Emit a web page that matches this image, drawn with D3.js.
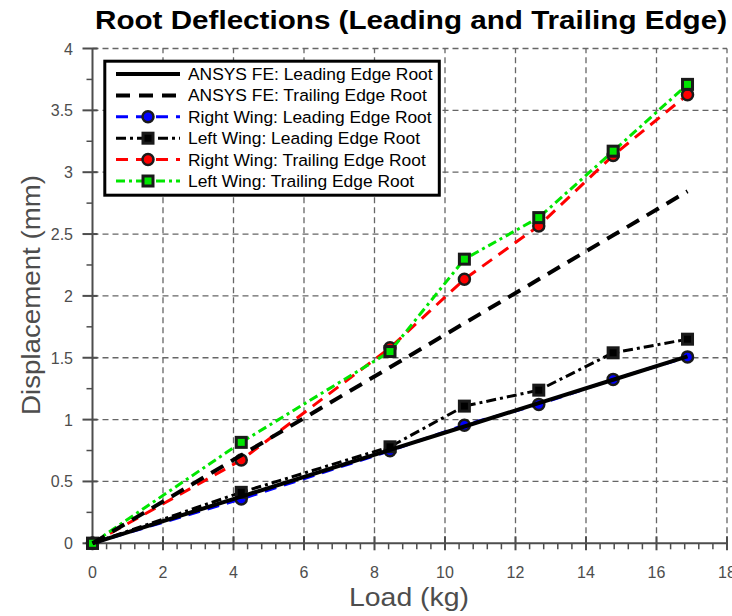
<!DOCTYPE html>
<html>
<head>
<meta charset="utf-8">
<script src="https://cdn.jsdelivr.net/npm/d3@7"></script>
<style>
  html, body { margin: 0; padding: 0; background: #fff; }
  svg { display: block; font-family: "Liberation Sans", Arial, Helvetica, sans-serif; }
</style>
</head>
<body>
<svg id="chart" width="732" height="616"></svg>
<script>
// Load cases (kg) and measured / simulated root displacements (mm)
const loads = [0, 4.22, 8.44, 10.55, 12.66, 14.77, 16.88];
const ansysLeading = [0, 0.378, 0.755, 0.944, 1.133, 1.322, 1.511];
const ansysTrailing = [0, 0.712, 1.423, 1.779, 2.134, 2.490, 2.846];
const rightLeading = [0, 0.358, 0.748, 0.955, 1.123, 1.325, 1.507];
const leftLeading = [0, 0.412, 0.780, 1.109, 1.238, 1.540, 1.650];
const rightTrailing = [0, 0.673, 1.580, 2.135, 2.566, 3.136, 3.627];
const leftTrailing = [0, 0.816, 1.550, 2.297, 2.633, 3.170, 3.710];

const xTicks = [0, 2, 4, 6, 8, 10, 12, 14, 16, 18];
const yTicks = [0, 0.5, 1, 1.5, 2, 2.5, 3, 3.5, 4];
const seriesNames = [
  "ANSYS FE: Leading Edge Root",
  "ANSYS FE: Trailing Edge Root",
  "Right Wing: Leading Edge Root",
  "Left Wing: Leading Edge Root",
  "Right Wing: Trailing Edge Root",
  "Left Wing: Trailing Edge Root"
];

const titleText = "Root Deflections (Leading and Trailing Edge)";
const xLabel = "Load (kg)";
const yLabel = "Displacement (mm)";

// Series styling (legend order)
const styles = [
  { values: ansysLeading,  color: "#000", width: 4,   dash: null,           marker: null },
  { values: ansysTrailing, color: "#000", width: 4,   dash: "14,9",         marker: null },
  { values: rightLeading,  color: "#0000ff", width: 3, dash: "12,8",        marker: "circle" },
  { values: leftLeading,   color: "#000", width: 3,   dash: "10,4,3,4",     marker: "square" },
  { values: rightTrailing, color: "#ff0000", width: 3, dash: "12,8",        marker: "circle" },
  { values: leftTrailing,  color: "#00e600", width: 3, dash: "9,4,3,4",     marker: "square" }
];

const svg = d3.select("#chart");
const margin = { left: 92.5, right: 5, top: 48.5, bottom: 72.7 };
const W = 732, H = 616;
const x = d3.scaleLinear().domain([0, 18]).range([margin.left, W - margin.right]);
const y = d3.scaleLinear().domain([0, 4]).range([H - margin.bottom, margin.top]);

const axisColor = "#4d4d4d";

// Dashed grid
const grid = svg.append("g");
grid.selectAll("line.gx").data(xTicks.filter(d => d > 0)).join("line")
  .attr("x1", d => x(d)).attr("x2", d => x(d))
  .attr("y1", y(0)).attr("y2", y(4))
  .attr("stroke", "#666").attr("stroke-width", 1.3).attr("stroke-dasharray", "6,4");
grid.selectAll("line.gy").data(yTicks.filter(d => d > 0)).join("line")
  .attr("x1", x(0)).attr("x2", x(18))
  .attr("y1", d => y(d)).attr("y2", d => y(d))
  .attr("stroke", "#666").attr("stroke-width", 1.3).attr("stroke-dasharray", "6,4");

// X axis: line, minor ticks outward, major ticks crossing
const xAxis = svg.append("g");
xAxis.append("line").attr("x1", x(0)).attr("x2", x(18)).attr("y1", y(0)).attr("y2", y(0))
  .attr("stroke", axisColor).attr("stroke-width", 2);
const xMinor = d3.range(0, 18.001, 0.4).filter(v => Math.abs(v / 2 - Math.round(v / 2)) > 1e-6);
xAxis.selectAll("line.mx").data(xMinor).join("line")
  .attr("x1", d => x(d)).attr("x2", d => x(d)).attr("y1", y(0)).attr("y2", y(0) + 6)
  .attr("stroke", axisColor).attr("stroke-width", 1.5);
xAxis.selectAll("line.Mx").data(xTicks).join("line")
  .attr("x1", d => x(d)).attr("x2", d => x(d)).attr("y1", y(0) - 7).attr("y2", y(0) + 7)
  .attr("stroke", axisColor).attr("stroke-width", 2);
xAxis.selectAll("text").data(xTicks).join("text")
  .attr("x", d => x(d)).attr("y", y(0) + 35)
  .attr("text-anchor", "middle").attr("font-size", 16).attr("fill", axisColor)
  .text(d => d);

// Y axis
const yAxis = svg.append("g");
yAxis.append("line").attr("x1", x(0)).attr("x2", x(0)).attr("y1", y(0)).attr("y2", y(4))
  .attr("stroke", axisColor).attr("stroke-width", 2);
const yMinor = d3.range(0.25, 4, 0.5);
yAxis.selectAll("line.my").data(yMinor).join("line")
  .attr("x1", x(0) - 6).attr("x2", x(0)).attr("y1", d => y(d)).attr("y2", d => y(d))
  .attr("stroke", axisColor).attr("stroke-width", 1.5);
yAxis.selectAll("line.My").data(yTicks).join("line")
  .attr("x1", x(0) - 10).attr("x2", x(0) + 5).attr("y1", d => y(d)).attr("y2", d => y(d))
  .attr("stroke", axisColor).attr("stroke-width", 2);
yAxis.selectAll("text").data(yTicks).join("text")
  .attr("x", 73).attr("y", d => y(d) + 6)
  .attr("text-anchor", "end").attr("font-size", 16).attr("fill", axisColor)
  .text(d => d);

// Axis titles
svg.append("text").attr("x", 409).attr("y", 606).attr("text-anchor", "middle")
  .attr("font-size", 25).attr("fill", axisColor)
  .attr("textLength", 120).attr("lengthAdjust", "spacingAndGlyphs").text(xLabel);
svg.append("text").attr("transform", "translate(40,295) rotate(-90)")
  .attr("text-anchor", "middle").attr("font-size", 25).attr("fill", axisColor)
  .attr("textLength", 240).attr("lengthAdjust", "spacingAndGlyphs").text(yLabel);

// Title
svg.append("text").attr("x", 411).attr("y", 29).attr("text-anchor", "middle")
  .attr("font-size", 26).attr("font-weight", "bold").attr("fill", "#000")
  .attr("textLength", 632).attr("lengthAdjust", "spacingAndGlyphs").text(titleText);

// Markers
function drawMarker(g, kind, cx, cy, fill) {
  if (kind === "circle") {
    g.append("circle").attr("cx", cx).attr("cy", cy).attr("r", 5.5)
      .attr("fill", fill).attr("stroke", "#1a1a1a").attr("stroke-width", 2.5);
  } else if (kind === "square") {
    g.append("rect").attr("x", cx - 5).attr("y", cy - 5).attr("width", 10).attr("height", 10)
      .attr("fill", fill).attr("stroke", "#1a1a1a").attr("stroke-width", 3);
  }
}

const line = d3.line().x((d, i) => x(loads[i])).y(d => y(d));
const plot = svg.append("g");
// experimental series first, ANSYS curves on top
const drawOrder = [2, 3, 4, 5, 0, 1];
drawOrder.forEach(k => {
  const s = styles[k];
  const g = plot.append("g");
  g.append("path").datum(s.values).attr("d", line)
    .attr("fill", "none").attr("stroke", s.color).attr("stroke-width", s.width)
    .attr("stroke-dasharray", s.dash).attr("stroke-linejoin", "round");
  if (s.marker) {
    s.values.forEach((v, i) => drawMarker(g, s.marker, x(loads[i]), y(v), s.color === "#000" ? "#000" : s.color));
  }
});

// Legend
const lg = svg.append("g");
lg.append("rect").attr("x", 104.8).attr("y", 61.2).attr("width", 334.5).attr("height", 134)
  .attr("fill", "#fff").attr("stroke", "#000").attr("stroke-width", 3);
const rowY = d3.range(6).map(i => 74 + i * 21.4);
styles.forEach((s, i) => {
  const yy = rowY[i];
  lg.append("line").attr("x1", 116).attr("x2", 180).attr("y1", yy).attr("y2", yy)
    .attr("stroke", s.color).attr("stroke-width", s.width)
    .attr("stroke-dasharray", s.dash);
  if (s.marker) drawMarker(lg, s.marker, 148, yy, s.color);
  lg.append("text").attr("x", 188).attr("y", yy + 6).attr("font-size", 17.4).attr("fill", "#000")
    .text(seriesNames[i]);
});
</script>
</body>
</html>
